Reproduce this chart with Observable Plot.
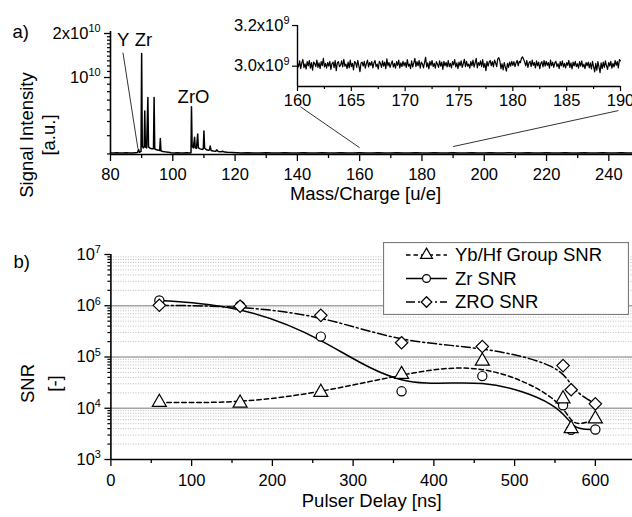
<!DOCTYPE html>
<html><head><meta charset="utf-8">
<script src="https://cdn.jsdelivr.net/npm/d3@7"></script>
<script src="https://cdn.jsdelivr.net/npm/@observablehq/plot@0.6"></script>
<style>
html,body{margin:0;padding:0;background:#fff;}
#chart{position:relative;width:632px;height:517px;overflow:hidden;background:#fff;}
#chart svg{position:absolute;}
</style></head><body><div id="chart"></div>
<script>
// ---------- Panel a: mass spectrum (intensity in units of 1e9) ----------
const specMz = [80,81,82,83,84,85,86,87,88,88.7,89,89.3,89.8,90,90.2,90.5,90.8,91,91.2,91.6,92,92.2,92.7,93.3,93.8,94,94.2,94.8,95.5,95.8,96,96.2,96.8,97.6,98.5,99.5,100.5,101.5,102.5,103.5,104.5,105.5,105.85,106,106.2,106.6,107,107.2,107.6,108,108.2,108.8,109.5,109.8,110,110.2,110.8,111.5,111.8,112,112.3,113,113.8,114.1,114.6,115.5,116,116.6,117.5,119,120.5,
122,124,126,128,130,132,134,136,138,140,142,144,146,148,150,152,154,156,158,160,162,164,166,168,170,172,174,176,178,180,182,184,186,188,190,192,194,196,198,200,202,204,206,208,210,212,214,216,218,220,222,224,226,228,230,232,234,236,238,240,242,244,246,248];
const specI = [3.05,3.04,3.06,3.05,3.04,3.06,3.05,3.04,3.06,3.07,3.22,3.08,3.12,14.6,3.4,3.3,3.35,5.9,3.35,3.3,7.3,3.35,3.28,3.25,3.25,7.3,3.25,3.2,3.18,3.17,3.82,3.15,3.12,3.1,3.08,3.06,3.05,3.06,3.05,3.04,3.06,3.05,3.06,6.3,3.4,3.3,3.9,3.3,3.28,4.1,3.3,3.25,3.22,3.25,4.3,3.3,3.2,3.18,3.2,3.4,3.17,3.14,3.13,3.2,3.12,3.1,3.13,3.09,3.08,3.07,3.06,
3.05,3.06,3.04,3.05,3.06,3.05,3.04,3.06,3.05,3.05,3.06,3.04,3.05,3.06,3.05,3.04,3.06,3.05,3.05,3.06,3.04,3.05,3.06,3.05,3.04,3.06,3.05,3.05,3.06,3.04,3.05,3.06,3.05,3.04,3.06,3.05,3.05,3.06,3.04,3.05,3.06,3.04,3.05,3.06,3.05,3.04,3.06,3.05,3.05,3.06,3.04,3.05,3.06,3.05,3.04,3.06,3.05,3.05,3.06,3.04,3.05,3.06,3.05,3.04];
const peakLabels = ["Y","Zr","ZrO"];
const peakLabelMz = [84.1,90.6,106.65];
const peakLabelI = [17.9,17.9,7.29];
// zoom connectors (m/z, intensity 1e9): Y label -> peak, main axis -> inset
const connX1 = [84.0,160,190];
const connY1 = [14.8,3.31,3.37];
const connX2 = [88.8,141.0,243.1];
const connY2 = [3.26,6.3,5.94];

// ---------- Inset: m/z 160-190, deviation from 3.0e9 in units of 1e6 ----------
const insetMzStart = 160, insetMzStep = 0.1;
const insetDev = [5,-12,18,-20,8,25,-15,3,-22,14,
-6,20,-18,10,-28,12,4,-10,22,-14,
8,-20,15,-5,30,-12,6,-18,10,-8,
16,-24,4,12,-15,20,-30,8,14,-10,
-4,18,-12,26,-8,2,-20,12,-16,22,
-10,6,-26,14,10,-14,20,-6,-35,8,
12,-8,16,-18,4,22,-12,10,-4,14,
-16,8,20,-10,2,-22,16,6,-14,18,
-8,12,-20,28,-6,10,-14,4,18,-12,
6,-18,14,-4,22,-16,8,-10,16,-6,
10,-14,24,-8,2,-20,18,-12,8,30,
-10,14,-6,20,-18,12,4,-16,10,36,
-12,8,-22,16,-4,20,-10,6,-18,14,
2,-14,18,-8,12,-24,16,-6,10,-12,
20,-10,6,-16,14,-2,24,-12,8,-20,
12,-6,18,-14,4,26,-10,16,-8,2,
-18,14,-6,22,-12,8,30,-16,10,-4,
18,-10,24,-14,6,-30,16,-8,12,20,
-6,14,-12,22,8,-10,28,34,16,-20,
4,-26,10,-12,-32,6,-14,12,-8,16,
-4,14,-10,8,20,-6,16,10,30,38,
26,12,-6,20,-14,8,16,-10,22,-4,
10,-16,18,-6,12,-20,6,14,-12,20,
-8,16,-4,10,-18,22,-6,12,-14,8,
16,-10,4,-20,14,-6,18,-12,6,-16,
10,-4,20,-14,8,-22,12,-6,16,-10,
4,-18,14,-8,18,-12,2,-20,10,-6,
12,-16,8,-22,16,-10,-36,6,-28,14,
-12,-40,8,-20,12,-14,18,-6,-24,10,
-8,16,-18,6,-12,20,-4,14,-16,24,
18];
const insetBase = 3.008e9;

// ---------- Panel b: SNR vs pulser delay ----------
const delays = [60,160,260,360,460,560,570,600];
const snrYbHf = [1.3e4,1.26e4,2.04e4,4.57e4,8.3e4,1.53e4,4.0e3,6.2e3];
const snrZr   = [1.27e6,1.0e6,2.5e5,2.14e4,4.24e4,1.14e4,3.8e3,3.85e3];
const snrZrO  = [1.02e6,9.8e5,6.5e5,1.9e5,1.6e5,6.8e4,2.3e4,1.22e4];
const seriesNames = ["Yb/Hf Group SNR","Zr SNR","ZRO SNR"];

// ---------- Tick labels ----------
const aXTicks = [80,100,120,140,160,180,200,220,240];
const aYTicks = [1e10,2e10];
const aYTickLabels = ["10^10","2x10^10"];
const insetXTicks = [160,165,170,175,180,185,190];
const insetYTicks = [3.0e9,3.2e9];
const insetYTickLabels = ["3.0x10^9","3.2x10^9"];
const bXTicks = [0,100,200,300,400,500,600];
const bYTicks = [1e3,1e4,1e5,1e6,1e7];
const bYTickLabels = ["10^3","10^4","10^5","10^6","10^7"];

// ================= drawing =================
const FONT = '"Liberation Sans", Arial, Helvetica, sans-serif';
const TICKFS = 16.5, TITLEFS = 18.5;
const chart = document.getElementById("chart");
const baseStyle = {fontFamily: FONT, fontSize: TICKFS + "px", background: "transparent", overflow: "visible", color: "black"};

function supify(svg) {
  const ns = "http://www.w3.org/2000/svg";
  svg.querySelectorAll("text").forEach(el => {
    const t = el.textContent;
    const i = t.indexOf("^");
    if (i < 0) return;
    while (el.firstChild) el.removeChild(el.firstChild);
    const a = document.createElementNS(ns, "tspan"); a.textContent = t.slice(0, i);
    const b = document.createElementNS(ns, "tspan"); b.textContent = t.slice(i + 1);
    b.setAttribute("font-size", "0.66em"); b.setAttribute("dy", "-0.6em");
    el.append(a, b);
  });
}
function place(svg, left, top) {
  svg.style.left = left + "px"; svg.style.top = top + "px";
  supify(svg); chart.appendChild(svg);
}

const spec = specMz.map((m, i) => ({mz: m, I: specI[i] * 1e9}));
const conns = connX1.map((x, i) => ({x1: x, y1: connY1[i] * 1e9, x2: connX2[i], y2: connY2[i] * 1e9}));
const labs = peakLabels.map((t, i) => ({t, x: peakLabelMz[i], y: peakLabelI[i] * 1e9}));

const aYMinor = [...d3.range(3e9, 1e10, 1e9), ...d3.range(1.1e10, 2e10, 1e9)];
const aXMinor = d3.range(90, 248, 20);

const panelA = Plot.plot({
  width: 632, height: 205, marginLeft: 110, marginRight: 0, marginTop: 31, marginBottom: 51,
  style: baseStyle,
  x: {domain: [80, 247.6]},
  y: {type: "log", domain: [2.974e9, 2.064e10]},
  marks: [
    Plot.axisX(aXMinor, {tickSize: 4, tickFormat: () => "", label: null, strokeWidth: 1.3}),
    Plot.axisX(aXTicks, {tickSize: 7, tickPadding: 7, label: null, fontSize: TICKFS, strokeWidth: 1.3}),
    Plot.axisY(aYMinor, {tickSize: 3, tickFormat: () => "", label: null, strokeWidth: 1.2}),
    Plot.axisY(aYTicks, {tickSize: 6, tickPadding: 4, label: null, fontSize: TICKFS, strokeWidth: 1.3,
      tickFormat: v => aYTickLabels[aYTicks.indexOf(v)]}),
    Plot.ruleX([80], {stroke: "black", strokeWidth: 1.6}),
    Plot.ruleY([2.974e9], {stroke: "black", strokeWidth: 1.6}),
    Plot.line(spec, {x: "mz", y: "I", stroke: "black", strokeWidth: 1.5}),
    Plot.link(conns, {x1: "x1", y1: "y1", x2: "x2", y2: "y2", stroke: "#333", strokeWidth: 1}),
    Plot.text(labs, {x: "x", y: "y", text: "t", fontSize: TITLEFS}),
    Plot.text(["Mass/Charge [u/e]"], {text: d => d, frameAnchor: "bottom", textAnchor: "middle", dx: -6, dy: 45, fontSize: TITLEFS}),
    Plot.text(["Signal Intensity\n[a.u.]"], {text: d => d, frameAnchor: "left", textAnchor: "middle", rotate: -90, dx: -74, dy: 42, fontSize: TITLEFS, lineHeight: 1.19}),
    Plot.text(["a)"], {text: d => d, frameAnchor: "top-left", textAnchor: "start", dx: -98, dy: -6.5, fontSize: TITLEFS})
  ]
});
place(panelA, 0, 0);

// Inset
const inset = d3.range(insetDev.length).map(i => ({mz: insetMzStart + i * insetMzStep, I: insetBase + insetDev[i] * 1e6}));
const insetMinor = [162.5,167.5,172.5,177.5,182.5,187.5];
const panelInset = Plot.plot({
  width: 435, height: 104, marginLeft: 100, marginRight: 12, marginTop: 12, marginBottom: 30,
  style: baseStyle,
  x: {domain: [160, 190]},
  y: {domain: [2.9e9, 3.205e9]},
  marks: [
    Plot.axisX(insetMinor, {tickSize: 3, tickFormat: () => "", label: null, strokeWidth: 1.2}),
    Plot.axisX(insetXTicks, {tickSize: 5, tickPadding: 3, label: null, fontSize: TICKFS, strokeWidth: 1.2}),
    Plot.axisY(insetYTicks, {tickSize: 5, tickPadding: 3, label: null, fontSize: TICKFS, strokeWidth: 1.2,
      tickFormat: v => insetYTickLabels[insetYTicks.findIndex(t => Math.abs(t - v) < 1)]}),
    Plot.ruleX([160], {y1: 2.9e9, y2: 3.2e9, stroke: "black", strokeWidth: 1.4}),
    Plot.ruleY([2.9e9], {stroke: "black", strokeWidth: 1.4}),
    Plot.line(inset, {x: "mz", y: "I", stroke: "black", strokeWidth: 1.2})
  ]
});
place(panelInset, 197, 12);

// Panel b
const bRows = [];
[snrYbHf, snrZr, snrZrO].forEach((arr, s) => arr.forEach((v, i) => bRows.push({series: seriesNames[s], delay: delays[i], snr: v})));
const bMajorGrid = [1e4, 1e5, 1e6];
const bMinor = d3.range(3, 7).flatMap(d => d3.range(2, 10).map(k => k * 10 ** d));
const bXMinor = [50,150,250,350,450,550];
const dashes = ["4.5,3", null, "9,3,2,3"];
const symbols = ["triangle", "circle", "diamond2"];
const radii = [5.2, 4.6, 5.6];

const panelB = Plot.plot({
  width: 632, height: 287, marginLeft: 110.4, marginRight: 0, marginTop: 24, marginBottom: 58,
  style: baseStyle,
  x: {domain: [0, 646]},
  y: {type: "log", domain: [1e3, 1e7]},
  marks: [
    Plot.ruleY(bMinor, {stroke: "#bcbcbc", strokeWidth: 1, strokeDasharray: "1,1.5"}),
    Plot.ruleY(bMajorGrid, {stroke: "#a4a4a4", strokeWidth: 1.5}),
    Plot.axisX(bXMinor, {tickSize: 4, tickFormat: () => "", label: null, strokeWidth: 1.3}),
    Plot.axisX(bXTicks, {tickSize: 7, tickPadding: 8, label: null, fontSize: TICKFS, strokeWidth: 1.3}),
    Plot.axisY(bMinor, {tickSize: 3, tickFormat: () => "", label: null, strokeWidth: 1.2}),
    Plot.axisY(bYTicks, {tickSize: 6, tickPadding: 4, label: null, fontSize: TICKFS, strokeWidth: 1.3,
      tickFormat: v => bYTickLabels[bYTicks.findIndex(t => Math.abs(Math.log10(t) - Math.log10(v)) < 1e-6)]}),
    Plot.ruleX([0], {stroke: "black", strokeWidth: 1.6}),
    Plot.ruleY([1e3], {stroke: "black", strokeWidth: 1.6}),
    ...seriesNames.map((name, s) => Plot.line(bRows.filter(d => d.series === name), {x: "delay", y: "snr", curve: "basis", stroke: "black", strokeWidth: 1.5, strokeDasharray: dashes[s]})),
    ...[1, 0, 2].map(s => Plot.dot(bRows.filter(d => d.series === seriesNames[s]), {x: "delay", y: "snr", symbol: symbols[s], r: radii[s], fill: "white", stroke: "black", strokeWidth: 1.2})),
    Plot.text(["Pulser Delay [ns]"], {text: d => d, frameAnchor: "bottom", textAnchor: "middle", dy: 47, fontSize: TITLEFS}),
    Plot.text(["SNR\n[-]"], {text: d => d, frameAnchor: "left", textAnchor: "middle", rotate: -90, dx: -72, dy: 26.5, fontSize: TITLEFS, lineHeight: 1.46}),
    Plot.text(["b)"], {text: d => d, frameAnchor: "top-left", textAnchor: "start", dx: -97.4, dy: 0.5, fontSize: TITLEFS})
  ]
});
place(panelB, 0, 230);

// Legend for panel b
const lg = d3.create("svg").attr("width", 246).attr("height", 73)
  .style("position", "absolute").style("left", "383px").style("top", "242px").style("font-family", FONT);
lg.append("rect").attr("x", 0.5).attr("y", 0.5).attr("width", 245).attr("height", 72).attr("fill", "white").attr("stroke", "#7a7a7a").attr("stroke-width", 1.2);
const d3sym = {triangle: d3.symbolTriangle, circle: d3.symbolCircle, diamond2: d3.symbolDiamond2};
seriesNames.forEach((name, s) => {
  const yy = 13 + s * 23.5;
  lg.append("line").attr("x1", 23).attr("x2", 64).attr("y1", yy).attr("y2", yy).attr("stroke", "black").attr("stroke-width", 1.5).attr("stroke-dasharray", dashes[s]);
  lg.append("path").attr("d", d3.symbol(d3sym[symbols[s]], Math.PI * (radii[s] * 0.85) ** 2)()).attr("transform", `translate(43.5,${yy})`).attr("fill", "white").attr("stroke", "black").attr("stroke-width", 1.2);
  lg.append("text").attr("x", 72).attr("y", yy).attr("dy", "0.35em").attr("font-size", TITLEFS).text(name);
});
chart.appendChild(lg.node());
</script></body></html>
